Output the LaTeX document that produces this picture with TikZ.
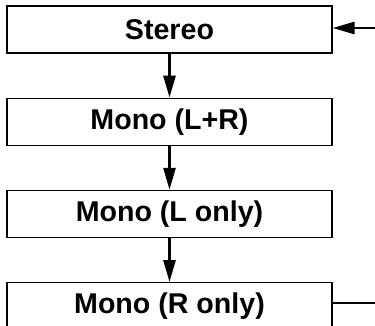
\documentclass[tikz,border=0pt]{standalone}
\usepackage{fontspec}
\setmainfont{Liberation Sans}
\usetikzlibrary{arrows.meta,positioning}
\tikzstyle{mode_box}=[draw, line width=0.6pt, minimum width=162.5pt, minimum height=23.5pt,
anchor=center, text centered, inner sep=0pt, font=\bfseries\fontsize{14.3}{16}\selectfont]
\tikzstyle{myarrow}=[-{Triangle[length=11pt,width=6pt]}, line width=1.4pt]
\tikzstyle{line}=[line width=1pt]

\begin{document}
\begin{tikzpicture}
		\useasboundingbox (0,0) rectangle (187.5pt,-163pt);

		\node[mode_box] (S) at (84.75pt,-14.75pt) {Stereo} ;

		\node[mode_box, below=22pt of S] (LR) {Mono (L+R)} ;
		\draw[myarrow] (S) -- (LR) ;

		\node[mode_box, below=22pt of LR] (L) {Mono (L only)} ;
		\draw[myarrow] (LR) -- (L) ;

		\node[mode_box, below=22pt of L] (R) {Mono (R only)} ;
		\draw[myarrow] (L) -- (R) ;

		% loop back on the right side
		\coordinate (in) at (187.5pt,-14pt) ;
		\coordinate (out) at (187.5pt,-151.5pt) ;
		\draw[myarrow] (in) -- (S.east |- in) ;
		\draw[line] (R.east |- out) -- (out) ;

	\end{tikzpicture}
\end{document}
